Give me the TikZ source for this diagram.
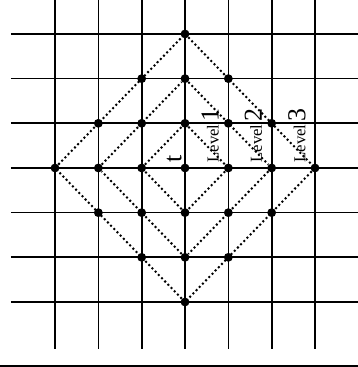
\documentclass[tikz,border=0pt]{standalone}
\usepackage{fontspec}
\setmainfont{Liberation Serif}
\usepackage{tikz}

\begin{document}
\begin{tikzpicture}[x=1cm,y=1.031cm,
  gridline/.style={line width=1.1pt},
  ring/.style={line width=1.3pt,dash pattern=on 1.3pt off 1.7pt},
  site/.style={circle,fill,inner sep=0pt,minimum size=5.8pt},
  level/.style={rotate=90,inner sep=0pt}]
  \useasboundingbox (-4.27,-4.455) rectangle (3.99,3.76);
  % lattice
  \foreach \x in {-3,...,3}{
     \draw[gridline] (\x,3.76) -- (\x,-4.05);
  }
  \foreach \y in {-3,...,3}{
     \draw[gridline] (-4.02,\y) -- (3.99,\y);
  }
  \draw[gridline] (-4.27,-4.43) -- (3.99,-4.43);
  % sites within distance 3 of the centre
  \foreach \x in {-3,...,3}{
     \foreach \y in {-3,...,3}{
        \pgfmathtruncatemacro\dist{abs(\x)+abs(\y)}
        \ifnum\dist<4 \node[site] (d\x\y) at (\x,\y) {};\fi
     }
  }
  % level rings
  \foreach \k in {1,2,3}{
     \draw[ring] (d0\k) -- (d\k0) -- (d0-\k) -- (d-\k0) -- (d0\k);
     \node[level] (lv\k) at (\k-0.42,0.72)
        {{\fontsize{11}{11}\selectfont Level}\,{\fontsize{17}{17}\selectfont \k}};
  }
  \node[rotate=90,inner sep=0pt] (t) at (-0.25,0.2) {\fontsize{17}{17}\selectfont t};
\end{tikzpicture}
\end{document}
